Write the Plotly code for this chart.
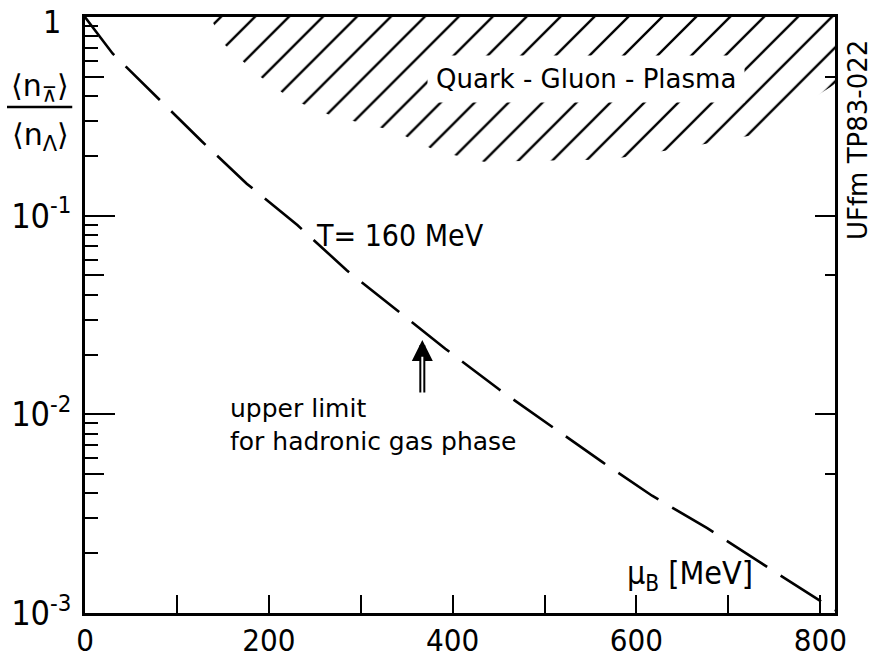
import math
import plotly.graph_objects as go

# ---- data ----
mu_curve = [0, 30, 80, 127, 176, 231, 285, 340, 392, 450, 510, 563, 617, 677, 735, 788, 816]
ratio_curve = [1.0, 0.656, 0.388, 0.237, 0.145, 0.0897, 0.053, 0.0331, 0.0214, 0.0134,
               0.00857, 0.00574, 0.00389, 0.00267, 0.00179, 0.00124, 0.00103]

# lower boundary of the hatched quark-gluon-plasma region
mu_qgp = [136, 152, 187, 225, 269, 336, 383, 434, 571, 655, 726, 766, 816]
ratio_qgp = [1.0, 0.726, 0.516, 0.385, 0.318, 0.268, 0.211, 0.187, 0.192, 0.221, 0.254, 0.325, 0.46]

x_tickvals = [0, 200, 400, 600, 800]
x_ticktext = ["0", "200", "400", "600", "800"]
x_minor = [100, 300, 500, 700]
y_tickvals = [0.001, 0.01, 0.1, 1]
y_ticktext = ["10<sup>-3</sup>", "10<sup>-2</sup>", "10<sup>-1</sup>", ""]
y_top_label = "1"
y_minor = [m * d for d in [0.001, 0.01, 0.1] for m in [2, 3, 4, 6, 7, 8, 9]]
y_fives = [0.005, 0.05, 0.5]

COND = "DejaVu Sans Condensed, Liberation Sans Narrow, Roboto Condensed, Roboto, sans-serif"
SANS = "DejaVu Sans, Noto Sans, sans-serif"


def ly(v):
    return math.log10(v)


fig = go.Figure()

# hatched region
fig.add_trace(go.Scatter(
    x=mu_qgp + [mu_qgp[-1], mu_qgp[0]],
    y=ratio_qgp + [1.0, 1.0],
    mode="lines", line=dict(width=0, color="black"),
    fill="toself", fillcolor="rgba(0,0,0,0)",
    fillpattern=dict(shape="/", size=24, solidity=0.1, fgcolor="black", fgopacity=1,
                     bgcolor="rgba(0,0,0,0)"),
    hoverinfo="skip", showlegend=False))

# dashed curve
fig.add_trace(go.Scatter(
    x=mu_curve, y=ratio_curve, mode="lines",
    line=dict(color="black", width=2.6, dash="48px,16px"),
    showlegend=False, hoverinfo="skip"))

# dummy traces for the extra tick axes
fig.add_trace(go.Scatter(x=[None], y=[None], yaxis="y2", showlegend=False, hoverinfo="skip"))
fig.add_trace(go.Scatter(x=[None], y=[None], yaxis="y3", showlegend=False, hoverinfo="skip"))

YR = [-3.0005, 0.0005]

fig.update_layout(
    width=872, height=663,
    margin=dict(l=85, r=37, t=17, b=50),
    plot_bgcolor="white", paper_bgcolor="white",
    showlegend=False,
    xaxis=dict(
        range=[0, 816], showline=True, linecolor="black", linewidth=2.5, mirror=True,
        showgrid=False, zeroline=False, automargin=False,
        ticks="inside", tickvals=x_tickvals, ticktext=x_ticktext,
        ticklen=18, tickwidth=2, tickcolor="black",
        minor=dict(tickvals=x_minor, ticks="inside", ticklen=18, tickwidth=2, tickcolor="black"),
        tickfont=dict(family=COND, size=31, color="black"),
        ticklabelstandoff=-2, ticklabeloverflow="allow",
    ),
    yaxis=dict(
        type="log", range=YR, showline=True, linecolor="black", linewidth=2.5, mirror=True,
        showgrid=False, zeroline=False, automargin=False,
        ticks="inside", tickvals=y_tickvals, ticktext=y_ticktext,
        ticklen=30, tickwidth=2, tickcolor="black",
        minor=dict(tickvals=y_minor, ticks="inside", ticklen=13, tickwidth=2, tickcolor="black"),
        tickfont=dict(family=COND, size=34, color="black"),
        ticklabelstandoff=4, ticklabeloverflow="allow",
    ),
    yaxis2=dict(
        type="log", range=YR, overlaying="y", side="left", anchor="x", automargin=False,
        showline=False, showgrid=False, zeroline=False, showticklabels=False,
        ticks="inside", tickvals=y_fives, ticklen=19, tickwidth=2, tickcolor="black",
    ),
    yaxis3=dict(
        type="log", range=YR, overlaying="y", side="right", anchor="x", automargin=False,
        showline=False, showgrid=False, zeroline=False, showticklabels=False,
        ticks="inside", tickvals=y_tickvals, ticklen=20, tickwidth=2, tickcolor="black",
        minor=dict(tickvals=y_fives, ticks="inside", ticklen=10, tickwidth=2, tickcolor="black"),
    ),
)

annotations = [
    # top y tick label, nudged down so it stays inside the page
    dict(x=-0.03, y=ly(1.0), xref="paper", yref="y", text=y_top_label, showarrow=False,
         xanchor="right", yanchor="middle", yshift=-5,
         font=dict(family=COND, size=32, color="black")),
    dict(x=545, y=ly(0.49), xref="x", yref="y", text="Quark - Gluon - Plasma", showarrow=False,
         font=dict(family=SANS, size=26, color="black"), bgcolor="white", borderpad=8),
    dict(x=343, y=ly(0.0794), xref="x", yref="y", text="T= 160 MeV", showarrow=False,
         font=dict(family=COND, size=30, color="black")),
    dict(x=156, y=ly(0.0107), xref="x", yref="y", text="upper limit", showarrow=False,
         xanchor="left", font=dict(family=SANS, size=25, color="black")),
    dict(x=156, y=ly(0.00733), xref="x", yref="y", text="for hadronic gas phase", showarrow=False,
         xanchor="left", font=dict(family=SANS, size=25, color="black")),
    dict(x=658, y=ly(0.00155), xref="x", yref="y", text="μ<sub>B</sub> [MeV]", showarrow=False,
         font=dict(family=COND, size=32, color="black")),
    # double arrow
    dict(x=367, y=ly(0.0237), xref="x", yref="y", text="", showarrow=True, ax=0, ay=54,
         arrowhead=2, arrowsize=0.7, arrowwidth=6, arrowcolor="black"),
    dict(x=367, y=ly(0.0195), xref="x", yref="y", text="", showarrow=True, ax=0, ay=40,
         arrowhead=0, arrowwidth=2, arrowcolor="white"),
    # y title fraction
    dict(x=-0.06, y=0.881, xref="paper", yref="paper", text="⟨n<sub>⊼</sub>⟩", showarrow=False,
         xanchor="center", yanchor="middle", font=dict(family=SANS, size=30, color="black")),
    dict(x=-0.06, y=0.799, xref="paper", yref="paper", text="⟨n<sub>Λ</sub>⟩", showarrow=False,
         xanchor="center", yanchor="middle", font=dict(family=SANS, size=30, color="black")),
    dict(x=1.031, y=0.794, xref="paper", yref="paper", text="UFfm TP83-022", showarrow=False,
         xanchor="center", yanchor="middle",
         textangle=-90, font=dict(family=SANS, size=26, color="black")),
]
fig.update_layout(annotations=annotations)

fig.add_shape(type="line", xref="paper", yref="paper", x0=-0.104, x1=-0.017, y0=0.849, y1=0.849,
              line=dict(color="black", width=2.5))

fig.write_html("out.html")
